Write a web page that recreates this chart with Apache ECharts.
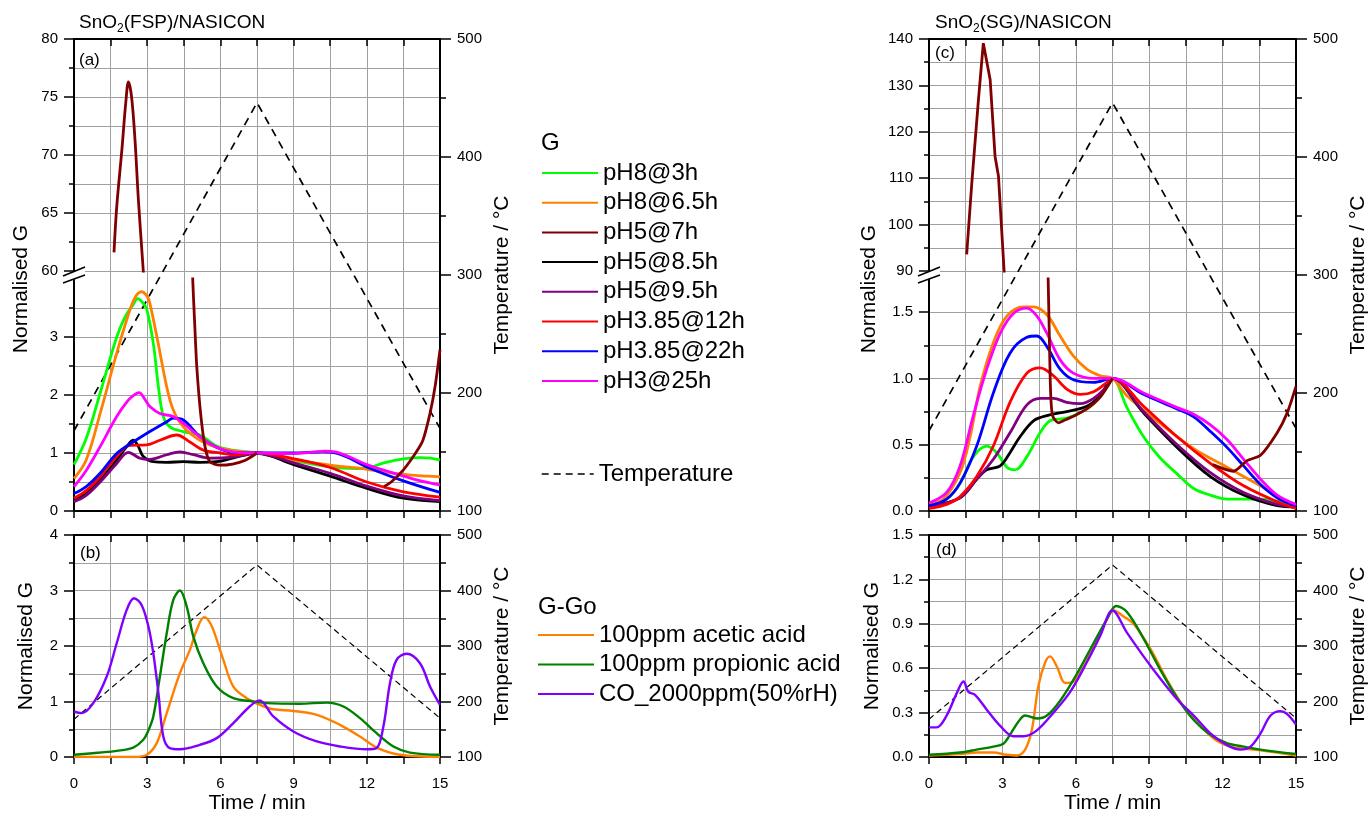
<!DOCTYPE html>
<html><head><meta charset="utf-8">
<script src="https://cdn.jsdelivr.net/npm/echarts@6/dist/echarts.min.js"></script>
<style>html,body{margin:0;padding:0;background:#fff}#c{width:1372px;height:815px}</style>
</head><body><div id="c"></div>
<script>
// ---------------- DATA ----------------
const gNames = ['pH8@3h','pH8@6.5h','pH5@7h','pH5@8.5h','pH5@9.5h','pH3.85@12h','pH3.85@22h','pH3@25h'];
const gColors = ['#00ff00','#ff8000','#800000','#000000','#800080','#ff0000','#0000ff','#ff00ff'];
const ggoNames = ['100ppm acetic acid','100ppm propionic acid','CO_2000ppm(50%rH)'];
const ggoColors = ['#ff8000','#008000','#8000ff'];
const xTickLabels = ['0','3','6','9','12','15'];

const tempTime = [0, 7.5, 15];
const tempValues = [168, 446, 170];

// Panel (a): SnO2(FSP)/NASICON, normalised G
const aGreen = [[0,0.8],[0.5,1.25],[1.07,2.03],[1.75,3.0],[2.1,3.35],[2.43,3.56],[2.6,3.66],[2.8,3.6],[2.98,3.48],[3.25,2.89],[3.46,2.14],[3.66,1.63],[3.93,1.45],[4.47,1.37],[5.16,1.31],[5.84,1.12],[6.5,1.05],[7.5,1.0],[9,0.87],[10.5,0.76],[11.5,0.73],[12,0.74],[12.7,0.83],[13.5,0.9],[14.2,0.92],[14.6,0.91],[15,0.88]];
const aOrange = [[0,0.56],[0.5,0.88],[1.07,1.68],[1.75,2.72],[2.2,3.35],[2.5,3.68],[2.77,3.78],[3.0,3.7],[3.11,3.58],[3.45,2.89],[3.8,2.14],[4.07,1.74],[4.48,1.45],[5.16,1.22],[5.84,1.1],[6.5,1.04],[7.5,1.0],[9,0.88],[10.5,0.79],[12,0.72],[13.5,0.63],[14.5,0.6],[15,0.59]];
const aBlack = [[0,0.19],[0.5,0.3],[1.07,0.53],[1.75,0.88],[2.16,1.11],[2.43,1.22],[2.64,1.11],[2.84,0.94],[3.25,0.85],[3.8,0.84],[4.48,0.85],[5.16,0.84],[5.84,0.85],[6.5,0.91],[7.5,1.0],[9,0.8],[10.5,0.6],[12,0.39],[13.5,0.22],[15,0.16]];
const aPurple = [[0,0.16],[0.5,0.27],[1.07,0.5],[1.75,0.82],[2.23,1.01],[2.7,0.91],[3.11,0.89],[3.8,0.97],[4.34,1.02],[4.89,0.97],[5.57,0.91],[6.5,0.93],[7.5,1.0],[9,0.83],[10.5,0.65],[12,0.43],[13.5,0.26],[15,0.18]];
const aRed = [[0,0.22],[0.5,0.35],[1.07,0.59],[1.75,0.94],[2.3,1.13],[2.98,1.14],[3.52,1.22],[4.21,1.31],[4.75,1.19],[5.3,1.05],[6,1.0],[6.6,0.97],[7.5,1.0],[9,0.9],[10.5,0.75],[12,0.5],[13.5,0.33],[15,0.24]];
const aBlue = [[0,0.3],[0.5,0.42],[1.07,0.65],[1.75,0.99],[2.43,1.19],[3.11,1.37],[3.8,1.54],[4.07,1.6],[4.48,1.57],[5.16,1.28],[5.84,1.1],[6.5,1.01],[7.5,1.0],[9,1.0],[10.2,1.02],[10.7,1.0],[11.3,0.91],[12,0.76],[13.5,0.52],[15,0.32]];
const aMagenta = [[0,0.42],[0.5,0.7],[1.07,1.11],[1.75,1.63],[2.2,1.9],[2.43,1.99],[2.67,2.04],[2.9,1.93],[3.11,1.8],[3.52,1.68],[4.07,1.63],[4.48,1.51],[5.16,1.28],[5.84,1.1],[6.5,1.02],[7.5,1.0],[8.9,0.99],[9.7,1.01],[10.3,1.03],[10.7,1.02],[11.3,0.93],[12,0.8],[13.36,0.62],[14.2,0.52],[15,0.45]];
const aDarkRedUpper = [[1.64,61.6],[1.75,65.5],[1.96,70.4],[2.13,74.7],[2.23,76.3],[2.36,75.0],[2.5,71.3],[2.64,66.1],[2.84,60.0],[2.9,58.0]];
const aDarkRedLower = [[4.85,4.4],[4.87,3.95],[4.95,3.2],[5.03,2.5],[5.19,1.68],[5.37,1.11],[5.57,0.85],[5.98,0.79],[6.5,0.81],[7.0,0.87],[7.5,1.0],[10,null],[12.7,0.42],[13.0,0.5],[13.5,0.71],[14.0,1.0],[14.3,1.22],[14.6,1.7],[14.8,2.15],[15,2.78]];

// Panel (b): G-Go
const bAcetic = [[0,0],[2.5,0],[2.98,0.04],[3.39,0.25],[3.8,0.79],[4.34,1.51],[4.75,1.93],[5.03,2.29],[5.33,2.52],[5.5,2.47],[5.71,2.29],[6.12,1.75],[6.53,1.27],[7.08,1.06],[7.62,0.94],[8.17,0.86],[8.99,0.83],[9.95,0.76],[10.9,0.58],[11.72,0.37],[12.4,0.17],[13.36,0.04],[15,0]];
const bPropionic = [[0,0.04],[1.07,0.08],[1.75,0.11],[2.43,0.17],[2.84,0.31],[3.05,0.48],[3.25,0.73],[3.52,1.45],[3.8,2.23],[4.07,2.83],[4.34,3.0],[4.62,2.71],[4.89,2.17],[5.3,1.69],[5.85,1.27],[6.53,1.06],[7.35,1.0],[7.9,0.97],[9.26,0.96],[10.36,0.98],[11.04,0.91],[11.72,0.7],[12.4,0.43],[13.09,0.19],[13.77,0.08],[15,0.04]];
const bCO = [[0,0.82],[0.31,0.79],[0.79,0.97],[1.34,1.45],[1.75,2.05],[2.16,2.65],[2.46,2.86],[2.77,2.74],[3.05,2.35],[3.25,1.87],[3.46,1.15],[3.66,0.37],[3.93,0.16],[4.34,0.14],[5.16,0.22],[5.85,0.34],[6.53,0.61],[7.2,0.91],[7.6,1.02],[8.17,0.73],[8.99,0.46],[9.95,0.28],[10.9,0.19],[12,0.14],[12.4,0.16],[12.68,0.55],[12.95,1.33],[13.22,1.75],[13.63,1.86],[14.18,1.69],[14.59,1.27],[15,0.94]];

// Panel (c): SnO2(SG)/NASICON, normalised G
const cGreen = [[0,0.04],[0.72,0.09],[1.27,0.21],[1.81,0.41],[2.36,0.49],[2.77,0.44],[3.18,0.33],[3.52,0.31],[4.0,0.41],[4.54,0.59],[4.95,0.68],[5.63,0.7],[6.45,0.77],[7.0,0.87],[7.5,1.0],[8.09,0.78],[8.77,0.56],[9.45,0.4],[10.14,0.28],[10.82,0.17],[11.5,0.12],[12.18,0.09],[13.55,0.09],[15,0.04]];
const cOrange = [[0,0.06],[0.59,0.09],[1.27,0.29],[1.68,0.56],[2.09,0.94],[2.63,1.27],[3.18,1.47],[3.86,1.54],[4.27,1.54],[4.82,1.48],[5.36,1.32],[5.9,1.17],[6.45,1.07],[7.0,1.02],[7.5,1.0],[8.09,0.87],[9.45,0.66],[10.82,0.47],[12.18,0.33],[12.86,0.26],[13.55,0.19],[14.23,0.11],[15,0.04]];
const cBlack = [[0,0.03],[1.27,0.1],[1.95,0.24],[2.36,0.31],[2.91,0.34],[3.31,0.44],[3.72,0.56],[4.27,0.68],[4.82,0.72],[5.63,0.75],[6.45,0.79],[7.0,0.87],[7.5,1.0],[8.77,0.74],[10.14,0.48],[11.5,0.26],[12.86,0.12],[14.23,0.04],[15,0.03]];
const cPurple = [[0,0.03],[1.27,0.1],[1.95,0.24],[2.63,0.39],[3.31,0.59],[4.0,0.8],[4.54,0.85],[5.09,0.85],[5.63,0.82],[6.18,0.81],[6.73,0.85],[7.27,0.94],[7.5,1.0],[8.77,0.75],[10.14,0.5],[11.5,0.29],[12.86,0.14],[14.23,0.05],[15,0.03]];
const cRed = [[0,0.02],[0.72,0.05],[1.27,0.11],[1.95,0.26],[2.63,0.49],[3.31,0.82],[4.0,1.04],[4.54,1.08],[5.09,1.02],[5.63,0.92],[6.18,0.88],[6.73,0.9],[7.27,0.97],[7.5,1.0],[8.77,0.79],[10.14,0.56],[11.5,0.36],[12.86,0.19],[14.23,0.07],[15,0.02]];
const cBlue = [[0,0.04],[0.72,0.09],[1.27,0.21],[1.95,0.49],[2.63,0.89],[3.31,1.19],[4.0,1.31],[4.41,1.32],[4.82,1.24],[5.36,1.07],[5.9,0.99],[6.73,0.97],[7.5,1.0],[8.77,0.88],[10.14,0.77],[10.82,0.71],[11.5,0.6],[12.18,0.48],[12.86,0.34],[13.55,0.2],[14.23,0.1],[15,0.04]];
const cMagenta = [[0,0.06],[0.72,0.14],[1.27,0.34],[1.81,0.72],[2.36,1.07],[2.91,1.34],[3.45,1.49],[4.0,1.53],[4.41,1.47],[4.82,1.34],[5.36,1.14],[5.9,1.04],[6.73,1.0],[7.5,1.0],[8.77,0.89],[10.14,0.78],[10.82,0.73],[11.5,0.65],[12.18,0.54],[12.86,0.39],[13.55,0.24],[14.23,0.12],[15,0.05]];
const cDarkRedUpper = [[1.54,93.6],[1.75,109],[2.02,126.9],[2.22,139.1],[2.5,131.2],[2.7,114.7],[2.84,110.4],[3.07,90],[3.1,88]];
const cDarkRedLower = [[4.85,1.9],[4.87,1.75],[4.92,1.3],[4.97,0.9],[5.05,0.72],[5.29,0.665],[5.6,0.69],[5.9,0.715],[6.45,0.77],[7.0,0.86],[7.5,1.0],[9.5,null],[11.6,0.35],[12.45,0.3],[13.0,0.38],[13.55,0.42],[14.23,0.59],[14.64,0.74],[15,0.94]];

// Panel (d): G-Go
const dAcetic = [[0,0.01],[1.27,0.02],[1.95,0.03],[2.63,0.03],[3.18,0.015],[3.59,0.01],[3.93,0.05],[4.2,0.18],[4.47,0.48],[4.75,0.64],[4.95,0.68],[5.23,0.61],[5.57,0.5],[5.91,0.51],[6.32,0.61],[6.73,0.75],[7.27,0.93],[7.54,0.99],[7.95,0.95],[8.36,0.9],[9.05,0.73],[9.73,0.52],[10.41,0.34],[11.09,0.21],[11.77,0.11],[12.46,0.065],[13.55,0.045],[15,0.01]];
const dPropionic = [[0,0.015],[1.27,0.03],[1.95,0.05],[2.63,0.07],[3.04,0.09],[3.31,0.15],[3.66,0.24],[3.93,0.28],[4.41,0.26],[4.82,0.28],[5.36,0.38],[6.04,0.56],[6.73,0.77],[7.27,0.93],[7.65,1.02],[8.09,0.98],[8.77,0.8],[9.45,0.59],[10.14,0.4],[10.82,0.25],[11.5,0.15],[12.18,0.094],[12.86,0.07],[13.55,0.05],[15,0.02]];
const dCO = [[0,0.2],[0.31,0.2],[0.72,0.28],[1.13,0.43],[1.41,0.51],[1.61,0.44],[1.88,0.42],[2.36,0.32],[2.91,0.21],[3.45,0.14],[3.86,0.14],[4.41,0.18],[5.09,0.3],[5.77,0.44],[6.45,0.64],[7.0,0.82],[7.5,0.99],[8.09,0.84],[8.77,0.68],[9.45,0.53],[10.14,0.39],[10.82,0.28],[11.5,0.16],[12.18,0.08],[12.73,0.05],[13.14,0.07],[13.55,0.16],[13.96,0.28],[14.37,0.31],[14.64,0.29],[15,0.22]];

// ---------------- LAYOUT / STYLE ----------------
const FONT = '"Liberation Sans", Arial, Helvetica, sans-serif';
const LY = {aLeft:74, cLeft:929, w:366, cw:367, top:39, upH:232, lowTop:279, lowH:232, bTop:535, bH:222};
const AL = {show:true, onZero:false, lineStyle:{color:'#000', width:2}};
const TK = {color:'#000', width:1.5};
const GL = {color:'#a0a0a0', width:1};
const LAB = {color:'#000', fontSize:15, fontFamily:FONT};
const NAME = {color:'#000', fontSize:21, fontFamily:FONT};
const tempData = tempTime.map((t,i)=>[t, tempValues[i]]);

const grids = [
  {left:LY.aLeft, top:LY.top, width:LY.w, height:LY.upH+8+LY.lowH}, //0 a full
  {left:LY.aLeft, top:LY.top, width:LY.w, height:LY.upH},           //1 a upper
  {left:LY.aLeft, top:LY.lowTop, width:LY.w, height:LY.lowH},        //2 a lower
  {left:LY.aLeft, top:LY.bTop, width:LY.w, height:LY.bH},            //3 b
  {left:LY.cLeft, top:LY.top, width:LY.cw, height:LY.upH+8+LY.lowH},//4 c full
  {left:LY.cLeft, top:LY.top, width:LY.cw, height:LY.upH},          //5 c upper
  {left:LY.cLeft, top:LY.lowTop, width:LY.cw, height:LY.lowH},       //6 c lower
  {left:LY.cLeft, top:LY.bTop, width:LY.cw, height:LY.bH}            //7 d
].map(g=>Object.assign({outerBoundsMode:'none', containLabel:false}, g));

const X0 = {type:'value', min:0, max:15, interval:1.5};
function topX(gi){ return {...X0, gridIndex:gi, position:'top', axisLine:AL, axisTick:{show:true, inside:true, length:7, lineStyle:TK}, axisLabel:{show:false}, splitLine:{show:false}}; }
function fullTopX(gi){ const o = topX(gi); o.splitLine = {show:true, lineStyle:GL}; return o; }
function hiddenX(gi){ return {...X0, gridIndex:gi, show:false}; }
function bottomPlainX(gi){ return {...X0, gridIndex:gi, position:'bottom', axisLine:AL, axisTick:{show:true, length:7, lineStyle:TK}, axisLabel:{show:false}, splitLine:{show:false}}; }
function bottomLabX(gi){ return {type:'value', min:0, max:15, interval:3, gridIndex:gi, position:'bottom', axisLine:AL,
  axisTick:{show:true, length:7, lineStyle:TK}, minorTick:{show:true, splitNumber:2, length:7, lineStyle:TK},
  axisLabel:{...LAB, margin:19, formatter:(v)=>xTickLabels[Math.round(v/3)]},
  splitLine:{show:true, lineStyle:GL}, minorSplitLine:{show:true, lineStyle:GL},
  name:'Time / min', nameLocation:'middle', nameGap:36, nameTextStyle:NAME}; }

const xAxes = [
  fullTopX(0), hiddenX(1), bottomPlainX(2), bottomLabX(3), topX(3),
  fullTopX(4), hiddenX(5), bottomPlainX(6), bottomLabX(7), topX(7)
];

function tempY(gi){ return {type:'value', gridIndex:gi, position:'right', min:100, max:500, interval:100, axisLine:AL,
  axisTick:{show:true, length:11, lineStyle:TK}, minorTick:{show:true, splitNumber:2, length:6, lineStyle:TK},
  axisLabel:{...LAB, margin:17}, splitLine:{show:false},
  name:'Temperature / °C', nameLocation:'middle', nameRotate:90, nameGap:52, nameTextStyle:NAME}; }
function gY(gi, min, max, interval, extra){ return Object.assign({type:'value', gridIndex:gi, position:'left', min, max, interval, axisLine:AL,
  axisTick:{show:true, length:10, lineStyle:TK}, minorTick:{show:true, splitNumber:2, length:5, lineStyle:TK},
  axisLabel:{...LAB, margin:16}, splitLine:{show:true, lineStyle:GL}, minorSplitLine:{show:true, lineStyle:GL}}, extra||{}); }

const yAxes = [
  tempY(0),                                                     //0
  gY(1, 60, 80, 5),                                             //1
  gY(2, 0, 4, 1, {axisLabel:{...LAB, margin:16, showMaxLabel:false}, splitLine:{show:true, showMaxLine:false, lineStyle:GL}}), //2
  gY(3, 0, 4, 1, {name:'Normalised G', nameLocation:'middle', nameRotate:90, nameGap:37, nameTextStyle:NAME}), //3
  tempY(3),                                                     //4
  tempY(4),                                                     //5
  gY(5, 90, 140, 10),                                           //6
  gY(6, 0, 1.75, 0.25, {axisTick:{show:true, length:5, lineStyle:TK}, minorTick:{show:false}, minorSplitLine:{show:false},
      axisLabel:{show:false}, splitLine:{show:true, showMaxLine:false, lineStyle:GL}}), //7
  gY(6, 0, 1.75, 0.5, {axisLine:{show:false}, minorTick:{show:false}, minorSplitLine:{show:false}, splitLine:{show:false},
      axisLabel:{...LAB, margin:16, showMaxLabel:false, formatter:(v)=>v.toFixed(1)}}), //8
  gY(7, 0, 1.5, 0.3, {axisLabel:{...LAB, margin:16, formatter:(v)=>v.toFixed(1)}, name:'Normalised G', nameLocation:'middle', nameRotate:90, nameGap:46, nameTextStyle:NAME}), //9
  tempY(7)                                                      //10
];

function ln(name, data, color, xi, yi, width, smooth){
  return {type:'line', name, data, xAxisIndex:xi, yAxisIndex:yi, symbol:'none', showSymbol:false,
    smooth: smooth===undefined ? 0.35 : smooth, connectNulls:false,
    lineStyle:{color, width}, itemStyle:{color}, emphasis:{disabled:true}, silent:true};
}
function tmp(xi, yi, width, dash){
  return {type:'line', name:'Temperature', data:tempData, xAxisIndex:xi, yAxisIndex:yi, symbol:'none', smooth:false,
    lineStyle:{color:'#000', width, type:dash}, itemStyle:{color:'#000'}, silent:true};
}
const W = 2.8, W2 = 2.4;
const series = [
  // (a)
  tmp(0, 0, 1.7, [8,6]),
  ln(gNames[2], aDarkRedUpper, gColors[2], 1, 1, W),
  ln(gNames[0], aGreen, gColors[0], 2, 2, W),
  ln(gNames[1], aOrange, gColors[1], 2, 2, W),
  ln(gNames[3], aBlack, gColors[3], 2, 2, W),
  ln(gNames[4], aPurple, gColors[4], 2, 2, W),
  ln(gNames[5], aRed, gColors[5], 2, 2, W),
  ln(gNames[6], aBlue, gColors[6], 2, 2, W),
  ln(gNames[7], aMagenta, gColors[7], 2, 2, W),
  ln(gNames[2], aDarkRedLower, gColors[2], 2, 2, W, 0.25),
  // (b)
  tmp(3, 4, 1.2, [6,4]),
  ln(ggoNames[0], bAcetic, ggoColors[0], 3, 3, W2),
  ln(ggoNames[1], bPropionic, ggoColors[1], 3, 3, W2),
  ln(ggoNames[2], bCO, ggoColors[2], 3, 3, W2),
  // (c)
  tmp(5, 5, 1.7, [8,6]),
  ln(gNames[2], cDarkRedUpper, gColors[2], 6, 6, W, false),
  ln(gNames[0], cGreen, gColors[0], 7, 7, W),
  ln(gNames[1], cOrange, gColors[1], 7, 7, W),
  ln(gNames[3], cBlack, gColors[3], 7, 7, W),
  ln(gNames[4], cPurple, gColors[4], 7, 7, W),
  ln(gNames[5], cRed, gColors[5], 7, 7, W),
  ln(gNames[6], cBlue, gColors[6], 7, 7, W),
  ln(gNames[7], cMagenta, gColors[7], 7, 7, W),
  ln(gNames[2], cDarkRedLower, gColors[2], 7, 7, W, 0.25),
  // (d)
  tmp(8, 10, 1.2, [6,4]),
  ln(ggoNames[0], dAcetic, ggoColors[0], 8, 9, W2),
  ln(ggoNames[1], dPropionic, ggoColors[1], 8, 9, W2),
  ln(ggoNames[2], dCO, ggoColors[2], 8, 9, W2)
];

const LEG_TEXT = {color:'#000', fontSize:24, fontFamily:FONT, lineHeight:26};
const NOSYM = {opacity:0};
const legends = [
  {data:gNames, orient:'vertical', left:541, top:160, itemWidth:56, itemHeight:14, itemGap:3.7, textStyle:LEG_TEXT, itemStyle:NOSYM, lineStyle:{width:2}, selectedMode:false, padding:0},
  {data:['Temperature'], orient:'vertical', left:541, top:461, itemWidth:52, itemHeight:14, textStyle:LEG_TEXT, itemStyle:NOSYM, lineStyle:{width:1.4, type:[7,5]}, selectedMode:false, padding:0},
  {data:ggoNames, orient:'vertical', left:537, top:622, itemWidth:56, itemHeight:14, itemGap:3.5, textStyle:LEG_TEXT, itemStyle:NOSYM, lineStyle:{width:2}, selectedMode:false, padding:0}
];

function txt(x, y, text, size, extra){
  return Object.assign({type:'text', x, y, z:100, silent:true, style:{text, fill:'#000', fontSize:size, fontFamily:FONT, align:'left', verticalAlign:'middle'}}, extra||{});
}
function rotTxt(x, y, text, size){
  return {type:'text', x, y, rotation:Math.PI/2, z:100, silent:true, style:{text, fill:'#000', fontSize:size, fontFamily:FONT, align:'center', verticalAlign:'middle'}};
}
function titleTxt(x, y, mid){
  return {type:'text', x, y, z:100, silent:true, style:{text:'{n|SnO}{s|2}{n|' + mid + '/NASICON}', fontFamily:FONT, fill:'#000', align:'left', verticalAlign:'middle',
    rich:{n:{fontSize:19, lineHeight:24, fontFamily:FONT, fill:'#000'}, s:{fontSize:12, lineHeight:13, verticalAlign:'bottom', fontFamily:FONT, fill:'#000'}}}};
}
function breakMark(cx){
  const cy = LY.top + LY.upH + 4;
  return [
    {type:'polygon', z:101, silent:true, shape:{points:[[cx-11,cy+1],[cx+11,cy-8],[cx+11,cy],[cx-11,cy+8]]}, style:{fill:'#fff'}},
    {type:'line', z:102, silent:true, shape:{x1:cx-11, y1:cy+1, x2:cx+11, y2:cy-8}, style:{stroke:'#000', lineWidth:1.6}},
    {type:'line', z:102, silent:true, shape:{x1:cx-11, y1:cy+8, x2:cx+11, y2:cy}, style:{stroke:'#000', lineWidth:1.6}}
  ];
}
const graphics = [
  titleTxt(79, 23, '(FSP)'),
  titleTxt(935, 23, '(SG)'),
  txt(79, 60, '(a)', 17), txt(80, 553, '(b)', 17), txt(935, 53, '(c)', 17), txt(936, 550, '(d)', 17),
  rotTxt(21, 289, 'Normalised G', 21),
  rotTxt(869, 289, 'Normalised G', 21),
  txt(541, 143, 'G', 24), txt(538, 607, 'G-Go', 24),
  ...breakMark(LY.aLeft), ...breakMark(LY.cLeft)
];

const chart = echarts.init(document.getElementById('c'), null, {renderer:'canvas', width:1372, height:815});
chart.setOption({
  animation:false,
  backgroundColor:'#fff',
  textStyle:{fontFamily:FONT},
  grid:grids, xAxis:xAxes, yAxis:yAxes, series, legend:legends, graphic:graphics
});
</script></body></html>
